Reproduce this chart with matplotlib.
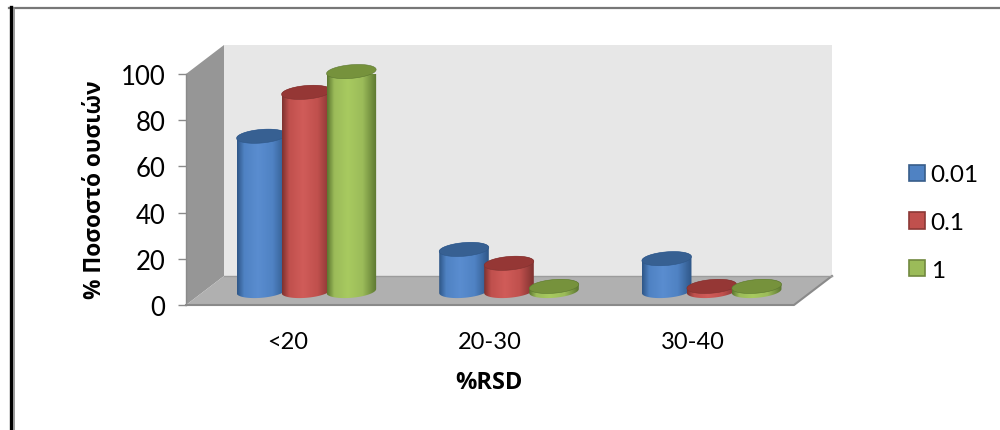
import numpy as np
import matplotlib
matplotlib.use("Agg")
import matplotlib.pyplot as plt
from matplotlib.colors import LinearSegmentedColormap
from matplotlib.lines import Line2D
from matplotlib.patches import Patch, Polygon

categories = ["<20", "20-30", "30-40"]
series_names = ["0.01", "0.1", "1"]
values_001 = [67, 18, 14]
values_01 = [86, 12, 2]
values_1 = [95, 2, 2]
y_ticks = [0, 20, 40, 60, 80, 100]

# side, mid, highlight, top, legend edge
palette = [
    ("#2f5788", "#4f82c3", "#5a8dd0", "#376092", "#385d8a"),
    ("#7f3230", "#c0504d", "#d05c59", "#953735", "#8c3836"),
    ("#5c7730", "#9bbb59", "#a8ca60", "#76923c", "#71893f"),
]

W, H = 1000, 431
fig = plt.figure(figsize=(W / 100, H / 100), dpi=100, facecolor="white")
plt.rcParams["font.family"] = ["Lato", "Open Sans"]

# Front plane of the plot box, in pixels from the top-left corner
LEFT, RIGHT, TOP, BOTTOM = 186, 794, 75, 306
ax = fig.add_axes([LEFT / W, 1 - BOTTOM / H, (RIGHT - LEFT) / W, (BOTTOM - TOP) / H])
px_x = 3 / (RIGHT - LEFT)
px_y = 100 / (BOTTOM - TOP)
depth_x = 38 * px_x
depth_y = 29 * px_y

# Walls and floor of the box
ax.add_patch(Polygon([(depth_x, depth_y), (3 + depth_x, depth_y), (3 + depth_x, 100 + depth_y),
                      (depth_x, 100 + depth_y)], fc="#e7e7e7", ec="none", zorder=1, clip_on=False))
ax.add_patch(Polygon([(0, 0), (depth_x, depth_y), (depth_x, 100 + depth_y), (0, 100)],
                     fc="#969696", ec="none", zorder=1, clip_on=False))
ax.add_patch(Polygon([(0, 0), (3, 0), (3 + depth_x, depth_y), (depth_x, depth_y)],
                     fc="#b0b0b0", ec="none", zorder=1, clip_on=False))
ax.plot([0, 3, 3 + depth_x], [0, 0, depth_y], color="#8a8a8a", lw=1.5, zorder=2, clip_on=False)
ax.plot([depth_x, 3 + depth_x], [depth_y, depth_y], color="#9c9c9c", lw=1.0, zorder=2, clip_on=False)
ax.plot([0, 0], [0, 100], color="#8a8a8a", lw=1.0, zorder=2, clip_on=False)


def ellipse(cx, cy, t):
    """Slightly tilted cylinder cap, returned in data units."""
    a, b, tilt = 24.8, 6.8, 2.0
    return (cx + a * np.cos(t) * px_x,
            cy + (b * np.sin(t) + tilt * np.cos(t)) * px_y)


def draw_cylinder(cx, value, colors, z):
    side, mid, light, top, _ = colors
    base = 14 * px_y
    t_low = np.linspace(np.pi, 2 * np.pi, 50)
    t_up = np.linspace(0, np.pi, 50)
    xl, yl = ellipse(cx, base, t_low)
    xu, yu = ellipse(cx, base + value, t_up)
    body = Polygon(np.column_stack([np.r_[xl, xu], np.r_[yl, yu]]), fc="none", ec="none",
                   zorder=z, clip_on=False)
    ax.add_patch(body)
    cmap = LinearSegmentedColormap.from_list(
        "body", [(0, side), (0.14, mid), (0.42, light), (0.72, mid), (1, side)])
    half = 24.8 * px_x
    img = ax.imshow(np.linspace(0, 1, 100)[None, :], cmap=cmap, aspect="auto", zorder=z,
                    extent=[cx - half, cx + half, yl.min() - 1, yu.max() + 1])
    img.set_clip_path(body)
    t = np.linspace(0, 2 * np.pi, 80)
    xc, yc = ellipse(cx, base + value, t)
    ax.add_patch(Polygon(np.column_stack([xc, yc]), fc=top, ec=side, lw=0.4, zorder=z + 0.1, clip_on=False))


all_values = [values_001, values_01, values_1]
slot = 45 * px_x
for s, vals in enumerate(all_values):
    for i, v in enumerate(vals):
        draw_cylinder(i + 0.5 + depth_x / 2 + (s - 1) * slot, v, palette[s], 3 + s + i * 3)

ax.set_xlim(0, 3)
ax.set_ylim(0, 100)
for spine in ax.spines.values():
    spine.set_visible(False)
ax.patch.set_visible(False)

ax.set_yticks(y_ticks)
ax.set_xticks([i + 0.5 for i in range(3)], categories)
ax.tick_params(axis="y", length=5.5, width=1, color="#8a8a8a", pad=9.5, labelsize=18.5, labelcolor="black")
ax.tick_params(axis="x", length=0, pad=18.5, labelsize=17, labelcolor="black")

fig.text(95 / W, 1 - 190 / H, "% Ποσοστό ουσιών", rotation=90, ha="center", va="center",
         fontsize=16.3, fontweight="bold", family=["Open Sans"])
fig.text(489 / W, 1 - 383 / H, "%RSD", ha="center", va="center",
         fontsize=17, fontweight="bold", family=["Open Sans"])

handles = [Patch(facecolor=c[1], edgecolor=c[4], lw=1.2) for c in palette]
ax.legend(handles, series_names, loc="upper left", bbox_to_anchor=(902 / W, 1 - 158 / H),
          bbox_transform=fig.transFigure, frameon=False, fontsize=17.5, handlelength=0.66,
          handleheight=0.66, handletextpad=0.22, labelspacing=1.1, borderpad=0.3, borderaxespad=0)

# Page border lines around the figure
fig.add_artist(Line2D([9 / W, W / W], [1 - 9 / H, 1 - 9 / H], color="#777777", lw=1.6))
fig.add_artist(Line2D([10.5 / W, 10.5 / W], [0, 1 - 8 / H], color="black", lw=2.4))
fig.add_artist(Line2D([14 / W, 14 / W], [0, 1 - 9 / H], color="#8a8a8a", lw=1.2))

fig.savefig("out.png", dpi=100)
